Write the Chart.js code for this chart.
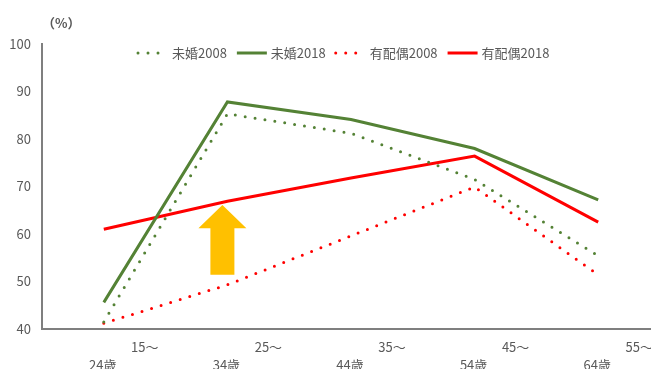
<!DOCTYPE html>
<html>
<head>
<meta charset="utf-8">
<script src="https://cdn.jsdelivr.net/npm/chart.js@4/dist/chart.umd.min.js"></script>
<style>
  html, body { margin: 0; padding: 0; background: #fff; overflow: hidden; }
  #wrap { width: 651px; height: 369px; overflow: hidden; }
</style>
</head>
<body>
<div id="wrap"><canvas id="chart" width="665" height="369"></canvas></div>
<script>
// age groups, split into two label lines
const ageFrom = ['15～', '25～', '35～', '45～', '55～'];
const ageTo = ['24歳', '34歳', '44歳', '54歳', '64歳'];

const yTicks = [40, 50, 60, 70, 80, 90, 100];

// participation rates (%)
const unmarried2008 = [41.5, 85.3, 81.2, 71.5, 55.4];
const unmarried2018 = [45.6, 87.8, 84.1, 78.0, 67.2];
const married2008 = [41.2, 49.3, 59.6, 69.9, 51.4];
const married2018 = [61.0, 66.9, 71.8, 76.4, 62.5];

const seriesNames = ['未婚2008', '未婚2018', '有配偶2008', '有配偶2018'];

const GREEN = '#548235';
const RED = '#FF0000';
const GRAY = '#595959';
const FONT = '"Noto Sans CJK JP", "Noto Sans", sans-serif';

const dotted = { borderDash: [0, 10], borderCapStyle: 'round', borderWidth: 3 };
const solid = { borderWidth: 3, borderCapStyle: 'butt' };

// legend, unit label, two-line category labels and the arrow
const extras = {
  id: 'extras',
  beforeDatasetsDraw(chart) {
    const { ctx, scales: { x, y } } = chart;
    // up arrow between the 2008 and 2018 married lines
    const cx = x.getPixelForValue(1) - 5;
    const tip = y.getPixelForValue(66.1);
    const neck = y.getPixelForValue(61.2);
    const base = y.getPixelForValue(51.4);
    ctx.save();
    ctx.fillStyle = '#FFC000';
    ctx.beginPath();
    ctx.moveTo(cx, tip);
    ctx.lineTo(cx + 24, neck);
    ctx.lineTo(cx + 12, neck);
    ctx.lineTo(cx + 12, base);
    ctx.lineTo(cx - 12, base);
    ctx.lineTo(cx - 12, neck);
    ctx.lineTo(cx - 24, neck);
    ctx.closePath();
    ctx.fill();
    ctx.restore();
  },
  afterDraw(chart) {
    const { ctx, scales: { x }, chartArea } = chart;
    ctx.save();
    ctx.fillStyle = GRAY;
    ctx.textBaseline = 'middle';

    // unit
    ctx.font = 'bold 13px ' + FONT;
    ctx.textAlign = 'left';
    ctx.fillText('（%）', 42, 23);

    // category labels
    ctx.font = '13px ' + FONT;
    ctx.textAlign = 'center';
    ageFrom.forEach((a, i) => {
      const px = x.getPixelForValue(i);
      ctx.fillText(a, px + 41, 347);
      ctx.fillText(ageTo[i], px - 1, 365);
    });

    // legend
    ctx.font = '13px ' + FONT;
    ctx.textAlign = 'left';
    const ly = 53;
    let lx = chartArea.left + 96;
    chart.data.datasets.forEach((ds) => {
      ctx.save();
      ctx.strokeStyle = ds.borderColor;
      ctx.lineWidth = 3;
      if (ds.borderDash && ds.borderDash.length) {
        ctx.setLineDash(ds.borderDash);
        ctx.lineCap = 'round';
        ctx.beginPath();
        ctx.moveTo(lx, ly);
        ctx.lineTo(lx + 24, ly);
        ctx.stroke();
      } else {
        ctx.beginPath();
        ctx.moveTo(lx, ly);
        ctx.lineTo(lx + 30, ly);
        ctx.stroke();
      }
      ctx.restore();
      lx += 34;
      ctx.fillText(ds.label, lx, ly);
      lx += ctx.measureText(ds.label).width + 10;
    });
    ctx.restore();
  }
};

new Chart(document.getElementById('chart'), {
  type: 'line',
  data: {
    labels: ageFrom.map((a, i) => a + ageTo[i]),
    datasets: [
      { label: seriesNames[0], data: unmarried2008, borderColor: GREEN, ...dotted },
      { label: seriesNames[1], data: unmarried2018, borderColor: GREEN, ...solid },
      { label: seriesNames[2], data: married2008, borderColor: RED, ...dotted },
      { label: seriesNames[3], data: married2018, borderColor: RED, ...solid }
    ]
  },
  options: {
    responsive: false,
    animation: false,
    events: [],
    layout: { padding: { top: 44, right: 5, left: 0, bottom: 0 } },
    elements: { point: { radius: 0 }, line: { tension: 0 } },
    plugins: { legend: { display: false }, tooltip: { enabled: false } },
    scales: {
      x: {
        offset: true,
        grid: { display: false, drawTicks: false },
        border: { display: true, color: '#7f7f7f', width: 2 },
        ticks: { display: false },
        afterFit: (s) => { s.height = 40; }
      },
      y: {
        min: yTicks[0],
        max: yTicks[yTicks.length - 1],
        afterBuildTicks: (s) => { s.ticks = yTicks.map((v) => ({ value: v })); },
        grid: { display: false, drawTicks: false },
        border: { display: true, color: '#7f7f7f', width: 2 },
        ticks: { color: GRAY, padding: 11, font: { size: 13, family: FONT } },
        afterFit: (s) => { s.width = 42; }
      }
    }
  },
  plugins: [extras]
});
</script>
</body>
</html>
